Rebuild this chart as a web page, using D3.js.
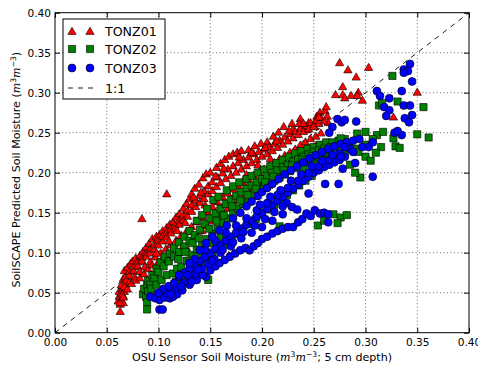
<!DOCTYPE html>
<html><head><meta charset="utf-8">
<script src="https://cdn.jsdelivr.net/npm/d3@7/dist/d3.min.js"></script>
<style>body{margin:0;background:#fff}svg{display:block}text{font-family:"DejaVu Sans",sans-serif}</style>
</head><body><svg id="c" width="478" height="367"></svg>
<script>
const ticks = [0.00,0.05,0.10,0.15,0.20,0.25,0.30,0.35,0.40];
const seriesNames = ["TONZ01","TONZ02","TONZ03"];
const seriesColors = ["#ff0000","#008000","#0000ff"];

const tonz01 = [
[0.061,0.040],[0.062,0.046],[0.062,0.052],[0.063,0.036],[0.064,0.042],[0.064,0.050],[0.065,0.056],[0.066,0.038],[0.066,0.046],[0.067,0.052],[0.068,0.060],[0.063,0.027],
[0.064,0.060],[0.066,0.068],[0.067,0.078],[0.070,0.082],[0.073,0.087],[0.075,0.090],[0.078,0.094],[0.082,0.097],[0.085,0.102],[0.088,0.107],[0.091,0.112],[0.094,0.118],[0.098,0.121],[0.101,0.123],[0.104,0.128],[0.108,0.132],[0.111,0.136],[0.114,0.139],[0.117,0.145],[0.120,0.149],[0.124,0.156],[0.127,0.162],[0.130,0.168],[0.132,0.174],[0.135,0.181],[0.139,0.186],[0.143,0.194],[0.146,0.199],[0.150,0.201],[0.156,0.207],[0.160,0.212],[0.164,0.217],[0.168,0.221],[0.172,0.224],[0.176,0.226],[0.180,0.228],[0.187,0.229],[0.193,0.234],[0.199,0.237],[0.205,0.239],[0.211,0.246],[0.216,0.251],[0.221,0.258],[0.229,0.262],[0.237,0.268],[0.245,0.263],[0.251,0.258],[0.253,0.271],[0.256,0.276],[0.261,0.278],[0.262,0.283],[0.263,0.271],[0.264,0.263],[0.238,0.258],[0.230,0.255],[0.243,0.254],[0.248,0.260],
[0.275,0.338],[0.283,0.329],[0.303,0.332],[0.291,0.320],[0.278,0.308],[0.271,0.298],[0.278,0.298],[0.280,0.294],[0.286,0.297],[0.293,0.301],[0.292,0.297],[0.297,0.291],[0.350,0.301],[0.327,0.270],[0.108,0.174],[0.084,0.143],[0.168,0.097],
[0.068,0.070],[0.072,0.077],[0.076,0.083],[0.080,0.089],[0.084,0.094],[0.088,0.100],[0.092,0.105],[0.096,0.111],[0.100,0.116],[0.104,0.121],[0.108,0.126],[0.112,0.130],[0.116,0.135],[0.120,0.141],[0.124,0.147],[0.128,0.153],[0.132,0.160],[0.136,0.166],[0.140,0.172],[0.144,0.178],[0.148,0.184],[0.152,0.189],[0.157,0.195],[0.162,0.200],[0.167,0.205],[0.172,0.209],[0.177,0.213],[0.182,0.217],[0.187,0.220],[0.192,0.224],[0.197,0.227],[0.202,0.230],[0.207,0.233],[0.212,0.237],[0.217,0.241],[0.222,0.245],[0.227,0.249],[0.232,0.252],[0.237,0.256],[0.242,0.259],[0.247,0.263],[0.252,0.266],[0.257,0.269],
[0.063,0.038],[0.065,0.048],[0.067,0.058],[0.069,0.066],[0.072,0.072],[0.076,0.078],[0.080,0.084],[0.084,0.090],[0.088,0.096],[0.092,0.100],[0.096,0.105],[0.100,0.110],[0.104,0.115],[0.108,0.120],[0.112,0.125],[0.116,0.130],[0.120,0.136],[0.124,0.141],[0.128,0.146],[0.132,0.152],[0.136,0.158],[0.140,0.163],[0.144,0.168],[0.148,0.174],[0.152,0.178],[0.156,0.183],[0.160,0.188],[0.165,0.193],[0.170,0.197],[0.175,0.201],[0.180,0.205],[0.185,0.209],[0.190,0.213],[0.195,0.217],[0.200,0.221],[0.205,0.224],[0.210,0.228],[0.215,0.232],[0.220,0.236],[0.225,0.240],[0.230,0.244],[0.235,0.248],[0.240,0.252],[0.245,0.255],[0.250,0.258],[0.255,0.262],[0.260,0.265],
[0.072,0.064],[0.077,0.070],[0.082,0.077],[0.087,0.083],[0.092,0.089],[0.097,0.095],[0.102,0.100],[0.107,0.105],[0.112,0.110],[0.117,0.116],[0.122,0.122],[0.127,0.127],[0.132,0.133],[0.137,0.139],[0.142,0.145],[0.147,0.152],[0.152,0.158],[0.157,0.164],[0.162,0.170],[0.167,0.175],[0.172,0.180],[0.177,0.184],[0.182,0.188],[0.187,0.192],[0.192,0.197],[0.197,0.201],[0.202,0.205],[0.207,0.209],[0.212,0.213],[0.217,0.218],[0.222,0.222],[0.227,0.226],[0.232,0.230],[0.237,0.235],[0.242,0.239],[0.247,0.243],[0.252,0.246],[0.257,0.250],
[0.066,0.045],[0.070,0.055],[0.074,0.062],[0.078,0.066],[0.082,0.069],[0.086,0.074],[0.090,0.080],[0.094,0.085],[0.099,0.087],[0.103,0.092],[0.109,0.091],[0.113,0.097],[0.118,0.100],[0.122,0.104],[0.127,0.107],[0.132,0.115],[0.137,0.122],[0.142,0.128],[0.147,0.134],[0.152,0.140],[0.157,0.146],[0.162,0.151],[0.167,0.156],[0.172,0.161],[0.177,0.166],[0.182,0.171],[0.187,0.176],[0.192,0.181],[0.197,0.186],[0.202,0.190],[0.207,0.195],[0.212,0.199],[0.217,0.204],[0.222,0.208],[0.227,0.213],[0.232,0.217],[0.237,0.222],[0.242,0.226],[0.247,0.230],[0.252,0.234],
[0.118,0.128],[0.126,0.138],[0.134,0.170],[0.141,0.176],[0.155,0.196],[0.163,0.206],[0.178,0.220],[0.190,0.226],[0.203,0.232],[0.214,0.240],[0.226,0.253],[0.236,0.262],[0.110,0.115],[0.098,0.100],[0.145,0.160],[0.185,0.198],[0.196,0.210],[0.208,0.218],[0.240,0.262],[0.255,0.270]
];

const tonz02 = [
[0.085,0.048],[0.086,0.055],[0.088,0.045],[0.089,0.060],[0.089,0.038],[0.089,0.029],[0.090,0.052],
[0.090,0.065],[0.094,0.072],[0.098,0.080],[0.102,0.088],[0.106,0.095],[0.111,0.099],[0.115,0.106],[0.120,0.113],[0.125,0.120],[0.130,0.127],[0.137,0.140],[0.142,0.147],[0.147,0.155],[0.153,0.166],[0.158,0.170],[0.166,0.178],[0.172,0.183],[0.178,0.188],[0.185,0.192],[0.190,0.196],[0.196,0.200],[0.202,0.204],[0.208,0.208],[0.214,0.212],[0.220,0.216],[0.226,0.220],[0.232,0.224],[0.238,0.227],[0.244,0.230],[0.250,0.232],[0.256,0.235],[0.262,0.238],[0.268,0.238],[0.274,0.240],[0.280,0.242],
[0.092,0.060],[0.096,0.068],[0.100,0.076],[0.105,0.083],[0.110,0.089],[0.115,0.095],[0.120,0.101],[0.125,0.108],[0.130,0.115],[0.135,0.122],[0.140,0.129],[0.145,0.136],[0.150,0.143],[0.155,0.149],[0.160,0.155],[0.165,0.161],[0.170,0.166],[0.175,0.171],[0.180,0.176],[0.185,0.180],[0.190,0.184],[0.195,0.188],[0.200,0.192],[0.205,0.196],[0.210,0.200],[0.215,0.203],[0.220,0.207],[0.225,0.210],[0.230,0.214],[0.235,0.217],[0.240,0.220],[0.245,0.223],[0.250,0.226],[0.255,0.228],[0.260,0.230],
[0.093,0.055],[0.098,0.060],[0.103,0.066],[0.108,0.072],[0.114,0.074],[0.118,0.080],[0.122,0.082],[0.127,0.090],[0.132,0.097],[0.137,0.104],[0.142,0.110],[0.147,0.117],[0.152,0.124],[0.157,0.130],[0.162,0.137],[0.167,0.143],[0.172,0.149],[0.177,0.155],[0.182,0.161],[0.187,0.166],[0.192,0.171],[0.197,0.176],[0.202,0.181],[0.207,0.185],[0.212,0.190],[0.217,0.194],[0.222,0.198],[0.227,0.202],[0.232,0.206],[0.237,0.210],[0.242,0.213],[0.247,0.216],[0.252,0.219],[0.257,0.222],[0.262,0.224],[0.267,0.226],
[0.097,0.045],[0.102,0.050],[0.107,0.054],[0.112,0.058],[0.117,0.064],[0.122,0.070],[0.128,0.075],[0.134,0.080],[0.140,0.086],[0.148,0.066],[0.146,0.092],[0.152,0.098],[0.158,0.104],[0.164,0.110],[0.170,0.117],[0.176,0.123],[0.182,0.130],[0.188,0.136],[0.194,0.142],[0.200,0.148],[0.206,0.154],[0.212,0.160],[0.218,0.166],[0.224,0.172],[0.230,0.178],[0.236,0.184],[0.242,0.190],[0.248,0.196],
[0.119,0.092],[0.126,0.101],[0.133,0.112],[0.139,0.118],[0.149,0.130],[0.156,0.140],[0.163,0.147],[0.171,0.158],[0.179,0.165],[0.186,0.172],[0.194,0.180],[0.203,0.188],[0.211,0.195],[0.221,0.203],[0.229,0.209],[0.239,0.216],[0.248,0.221],[0.258,0.226],[0.266,0.232],[0.272,0.229],[0.160,0.120],[0.150,0.112],[0.140,0.100],[0.130,0.090],
[0.240,0.205],[0.250,0.210],[0.260,0.215],[0.270,0.220],[0.280,0.225],[0.290,0.230],[0.300,0.235],[0.300,0.251],[0.292,0.249],[0.311,0.247],[0.317,0.251],[0.327,0.243],[0.329,0.233],[0.333,0.231],[0.315,0.232],[0.307,0.242],[0.283,0.232],[0.276,0.243],[0.293,0.226],[0.350,0.248],[0.361,0.244],[0.313,0.284],[0.331,0.289],[0.356,0.282],[0.326,0.321],[0.316,0.287],[0.295,0.194],[0.269,0.148],[0.276,0.144],[0.282,0.147],[0.273,0.137],[0.254,0.134],[0.260,0.140],[0.217,0.133],[0.285,0.210],[0.300,0.220],[0.305,0.215],[0.290,0.200],[0.310,0.225]
];

const tonz03 = [
[0.101,0.029],[0.104,0.029],[0.146,0.070],
[0.092,0.045],[0.097,0.043],[0.101,0.041],[0.106,0.044],[0.111,0.043],[0.114,0.045],[0.118,0.048],[0.123,0.053],[0.130,0.060],[0.137,0.066],[0.143,0.072],[0.150,0.078],[0.155,0.083],[0.159,0.087],[0.164,0.091],[0.169,0.095],[0.174,0.099],[0.179,0.103],[0.184,0.106],[0.188,0.103],[0.192,0.108],[0.196,0.112],[0.200,0.117],[0.205,0.120],[0.210,0.124],[0.215,0.127],[0.220,0.130],[0.225,0.132],[0.230,0.132],[0.235,0.138],[0.239,0.142],[0.243,0.149],[0.247,0.146],[0.251,0.153],[0.256,0.149],[0.260,0.150],[0.264,0.148],[0.264,0.138],[0.224,0.162],[0.229,0.157],[0.234,0.154],
[0.108,0.050],[0.113,0.053],[0.118,0.057],[0.124,0.062],[0.130,0.068],[0.136,0.074],[0.142,0.080],[0.148,0.086],[0.154,0.092],
[0.100,0.050],[0.105,0.055],[0.110,0.058],[0.115,0.062],[0.120,0.070],[0.125,0.075],[0.130,0.080],[0.135,0.085],[0.140,0.090],[0.145,0.095],[0.150,0.100],[0.155,0.105],[0.160,0.110],[0.165,0.115],[0.170,0.120],[0.175,0.125],[0.180,0.130],[0.185,0.135],[0.190,0.140],[0.195,0.145],[0.200,0.150],[0.205,0.155],[0.210,0.160],[0.215,0.165],[0.220,0.170],[0.225,0.175],[0.230,0.180],[0.235,0.185],[0.240,0.190],[0.245,0.195],[0.250,0.200],[0.255,0.203],[0.260,0.207],[0.265,0.210],[0.270,0.213],[0.275,0.216],[0.280,0.220],
[0.135,0.092],[0.145,0.104],[0.155,0.115],[0.165,0.125],[0.175,0.134],[0.185,0.143],[0.195,0.153],[0.205,0.162],[0.215,0.172],[0.225,0.181],[0.235,0.190],[0.245,0.200],[0.255,0.208],[0.265,0.216],[0.275,0.224],[0.285,0.230],
[0.120,0.072],[0.130,0.087],[0.140,0.103],[0.146,0.112],[0.152,0.120],[0.159,0.128],[0.166,0.134],[0.172,0.143],[0.179,0.150],[0.185,0.158],[0.190,0.164],[0.196,0.171],[0.200,0.176],[0.205,0.181],[0.210,0.186],[0.216,0.192],[0.222,0.198],[0.228,0.203],[0.234,0.208],[0.240,0.213],[0.246,0.218],[0.252,0.222],[0.258,0.226],[0.264,0.230],[0.270,0.233],[0.276,0.236],[0.282,0.238],[0.288,0.240],[0.294,0.242],
[0.160,0.100],[0.170,0.108],[0.180,0.118],[0.190,0.125],[0.200,0.132],[0.210,0.140],[0.220,0.148],
[0.128,0.072],[0.138,0.079],[0.152,0.090],[0.162,0.104],[0.172,0.113],[0.182,0.126],[0.193,0.134],[0.203,0.142],[0.212,0.151],[0.220,0.158],[0.198,0.160],[0.208,0.170],[0.218,0.178],[0.228,0.190],[0.238,0.198],[0.248,0.208],[0.258,0.215],[0.268,0.222],[0.280,0.232],[0.112,0.048],[0.122,0.058],[0.132,0.064],
[0.261,0.186],[0.274,0.186],[0.245,0.174],[0.290,0.212],[0.307,0.195],[0.278,0.205],[0.276,0.220],[0.288,0.226],[0.303,0.232],[0.307,0.238],[0.297,0.232],
[0.273,0.267],[0.277,0.263],[0.280,0.266],[0.291,0.264],[0.268,0.257],[0.265,0.250],[0.311,0.302],[0.314,0.296],[0.323,0.293],[0.335,0.302],[0.343,0.336],[0.337,0.329],[0.341,0.327],[0.337,0.325],[0.345,0.314],[0.318,0.282],[0.323,0.278],[0.320,0.271],[0.337,0.284],[0.343,0.284],[0.345,0.272],[0.338,0.268],[0.342,0.263],[0.335,0.247],[0.328,0.250],[0.331,0.252]
];
const seriesData = [tonz01, tonz02, tonz03];

const svg = d3.select("#c");
const L = 55, R = 469, T = 12.7, B = 332.7;
const x = d3.scaleLinear().domain([0,0.4]).range([L,R]);
const y = d3.scaleLinear().domain([0,0.4]).range([B,T]);

const g = svg.append("g");
g.selectAll(".gx").data(ticks.slice(1,-1)).join("line")
 .attr("x1",d=>x(d)).attr("x2",d=>x(d)).attr("y1",T).attr("y2",B)
 .attr("stroke","#000").attr("stroke-width",0.7).attr("stroke-dasharray","1,2.5").attr("opacity",0.8);
g.selectAll(".gy").data(ticks.slice(1,-1)).join("line")
 .attr("y1",d=>y(d)).attr("y2",d=>y(d)).attr("x1",L).attr("x2",R)
 .attr("stroke","#000").attr("stroke-width",0.7).attr("stroke-dasharray","1,2.5").attr("opacity",0.8);

svg.append("line").attr("x1",x(0)).attr("y1",y(0)).attr("x2",x(0.4)).attr("y2",y(0.4))
 .attr("stroke","#000").attr("stroke-width",0.9).attr("stroke-dasharray","5,5");

const shapes = [d3.symbolTriangle, d3.symbolSquare, d3.symbolCircle];
const sizes = [30, 52, 50];
svg.append("clipPath").attr("id","cp").append("rect").attr("x",L).attr("y",T).attr("width",R-L).attr("height",B-T);
const pts = svg.append("g").attr("clip-path","url(#cp)");
seriesData.forEach((data,i)=>{
  const sym = d3.symbol().type(shapes[i]).size(sizes[i]);
  pts.append("g").selectAll("path").data(data).join("path")
   .attr("d",sym).attr("transform",d=>`translate(${x(d[0])},${y(d[1])+(i===0?1:0)})`)
   .attr("fill",seriesColors[i]).attr("stroke","#000").attr("stroke-width",0.6);
});

const xa = svg.append("g").attr("transform",`translate(0,${B})`)
 .call(d3.axisBottom(x).tickValues(ticks).tickFormat(d3.format(".2f")).tickSizeInner(-5).tickSizeOuter(0).tickPadding(6));
const xt = svg.append("g").attr("transform",`translate(0,${T})`)
 .call(d3.axisTop(x).tickValues(ticks).tickFormat("").tickSizeInner(-5).tickSizeOuter(0));
const ya = svg.append("g").attr("transform",`translate(${L},0)`)
 .call(d3.axisLeft(y).tickValues(ticks).tickFormat(d3.format(".2f")).tickSizeInner(-5).tickSizeOuter(0).tickPadding(4));
const yr = svg.append("g").attr("transform",`translate(${R},0)`)
 .call(d3.axisRight(y).tickValues(ticks).tickFormat("").tickSizeInner(-5).tickSizeOuter(0));
[xa,xt,ya,yr].forEach(a=>{a.select(".domain").remove(); a.selectAll("text").attr("font-size","10.6px").attr("fill","#000").attr("font-family","DejaVu Sans");});
svg.append("rect").attr("x",L).attr("y",T).attr("width",R-L).attr("height",B-T).attr("fill","none").attr("stroke","#000").attr("stroke-width",1);

function mathLabel(t, tail){
  t.append("tspan").attr("font-style","italic").attr("font-family","DejaVu Serif").text("m");
  t.append("tspan").attr("font-size","7.6px").attr("dy",-4).text("3");
  t.append("tspan").attr("font-style","italic").attr("font-family","DejaVu Serif").attr("dy",4).text("m");
  t.append("tspan").attr("font-size","7.6px").attr("dy",-4).text("−3");
  t.append("tspan").attr("dy",4).text(tail);
}
const xl = svg.append("text").attr("x",(L+R)/2).attr("y",361).attr("text-anchor","middle").attr("font-size","11.1px");
xl.append("tspan").text("OSU Sensor Soil Moisture (");
mathLabel(xl, "; 5 cm depth)");

const yl = svg.append("text").attr("transform",`translate(20,${(T+B)/2-3}) rotate(-90)`).attr("text-anchor","middle").attr("font-size","11.1px");
yl.append("tspan").text("SoilSCAPE Predicted Soil Moisture (");
mathLabel(yl, ")");

const lg = svg.append("g");
lg.append("rect").attr("x",63).attr("y",19).attr("width",102).attr("height",80).attr("fill","#fff").attr("stroke","#000").attr("stroke-width",1);
const rows = [31,49,68];
seriesNames.forEach((n,i)=>{
  const sym = d3.symbol().type(shapes[i]).size(sizes[i]);
  [72,90].forEach(px=>lg.append("path").attr("d",sym).attr("transform",`translate(${px},${rows[i]+(i===0?1:0)})`)
    .attr("fill",seriesColors[i]).attr("stroke","#000").attr("stroke-width",0.6));
  lg.append("text").attr("x",105).attr("y",rows[i]+4.5).attr("font-size","12.6px").text(n);
});
lg.append("line").attr("x1",68).attr("x2",94).attr("y1",88).attr("y2",88).attr("stroke","#000").attr("stroke-width",0.9).attr("stroke-dasharray","5,5");
lg.append("text").attr("x",105).attr("y",92.5).attr("font-size","12.6px").text("1:1");
</script></body></html>
